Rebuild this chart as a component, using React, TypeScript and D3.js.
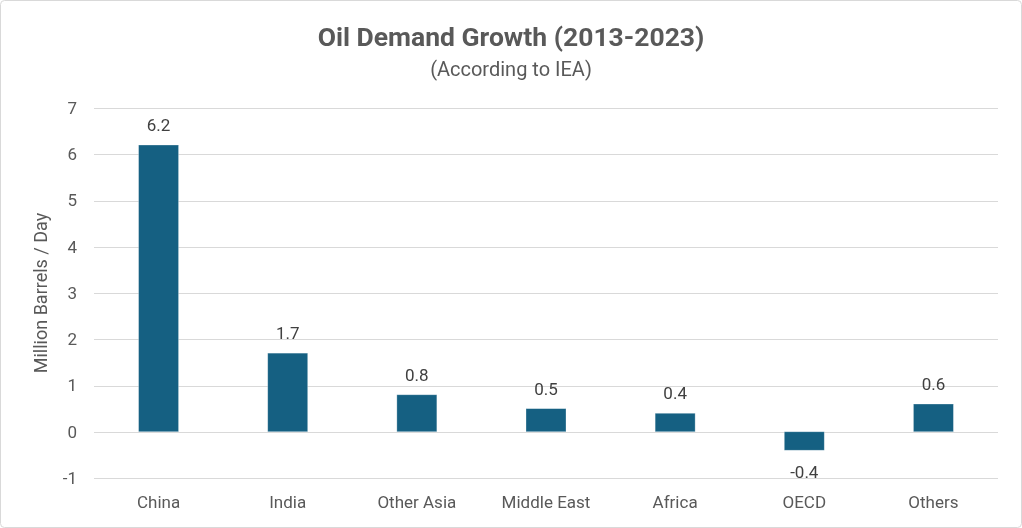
import { useEffect, useRef } from 'react';
import * as d3 from 'd3';

const categories = ['China', 'India', 'Other Asia', 'Middle East', 'Africa', 'OECD', 'Others'];
const growth = [6.2, 1.7, 0.8, 0.5, 0.4, -0.4, 0.6];
const yTicks = [-1, 0, 1, 2, 3, 4, 5, 6, 7];

const W = 1022;
const H = 528;
const FONT = "Roboto, 'Noto Sans', sans-serif";
const TEXT = '#595959';

export default function App() {
  const svgRef = useRef<SVGSVGElement>(null);

  useEffect(() => {
    if (!svgRef.current) return;
    const svg = d3.select(svgRef.current);
    svg.selectAll('*').remove();

    // Chart area border
    svg.append('rect')
      .attr('x', 0.5).attr('y', 0.5)
      .attr('width', W - 1).attr('height', H - 1)
      .attr('rx', 4)
      .attr('fill', 'white')
      .attr('stroke', '#d9d9d9');

    const left = 94, right = 998, top = 108, bottom = 478;

    const x = d3.scaleBand().domain(categories).range([left, right]).paddingInner(0).paddingOuter(0);
    const y = d3.scaleLinear().domain([-1, 7]).range([bottom, top]);
    const barW = 40;

    // Titles
    svg.append('text')
      .attr('x', W / 2).attr('y', 46)
      .attr('text-anchor', 'middle')
      .attr('font-family', FONT).attr('font-size', 26.5).attr('font-weight', 'bold')
      .attr('fill', TEXT)
      .text('Oil Demand Growth (2013-2023)');
    svg.append('text')
      .attr('x', W / 2).attr('y', 76)
      .attr('text-anchor', 'middle')
      .attr('font-family', FONT).attr('font-size', 20)
      .attr('fill', TEXT)
      .text('(According to IEA)');

    // Gridlines
    svg.append('g').selectAll('line')
      .data(yTicks)
      .enter().append('line')
      .attr('x1', left).attr('x2', right)
      .attr('y1', d => Math.round(y(d)) + 0.5)
      .attr('y2', d => Math.round(y(d)) + 0.5)
      .attr('stroke', '#d9d9d9')
      .attr('stroke-width', 1);

    // Y tick labels
    svg.append('g').selectAll('text')
      .data(yTicks)
      .enter().append('text')
      .attr('x', 77)
      .attr('y', d => y(d))
      .attr('dy', '0.35em')
      .attr('text-anchor', 'end')
      .attr('font-family', FONT).attr('font-size', 17)
      .attr('fill', TEXT)
      .text(d => d);

    // Y axis title
    svg.append('text')
      .attr('transform', `translate(47, ${(top + bottom) / 2}) rotate(-90)`)
      .attr('text-anchor', 'middle')
      .attr('font-family', FONT).attr('font-size', 18)
      .attr('fill', TEXT)
      .text('Million Barrels / Day');

    // Bars
    svg.append('g').selectAll('rect')
      .data(growth)
      .enter().append('rect')
      .attr('x', (d, i) => x(categories[i])! + x.bandwidth() / 2 - barW / 2)
      .attr('y', d => y(Math.max(0, d)))
      .attr('width', barW)
      .attr('height', d => Math.abs(y(d) - y(0)))
      .attr('fill', '#156082')
      .attr('stroke', '#ffffff')
      .attr('stroke-opacity', 0.4)
      .attr('stroke-width', 0.75);

    // Value labels
    svg.append('g').selectAll('text')
      .data(growth)
      .enter().append('text')
      .attr('x', (d, i) => x(categories[i])! + x.bandwidth() / 2)
      .attr('y', d => d >= 0 ? y(d) - 14 : y(d) + 28)
      .attr('text-anchor', 'middle')
      .attr('font-family', FONT).attr('font-size', 17)
      .attr('fill', '#404040')
      .text(d => d.toFixed(1));

    // Category labels
    svg.append('g').selectAll('text')
      .data(categories)
      .enter().append('text')
      .attr('x', d => x(d)! + x.bandwidth() / 2)
      .attr('y', 508)
      .attr('text-anchor', 'middle')
      .attr('font-family', FONT).attr('font-size', 17)
      .attr('fill', TEXT)
      .text(d => d);
  }, []);

  return (
    <div style={{ position: 'fixed', left: 0, top: 0 }}>
      <svg ref={svgRef} width={W} height={H} style={{ display: 'block' }}></svg>
    </div>
  );
}
